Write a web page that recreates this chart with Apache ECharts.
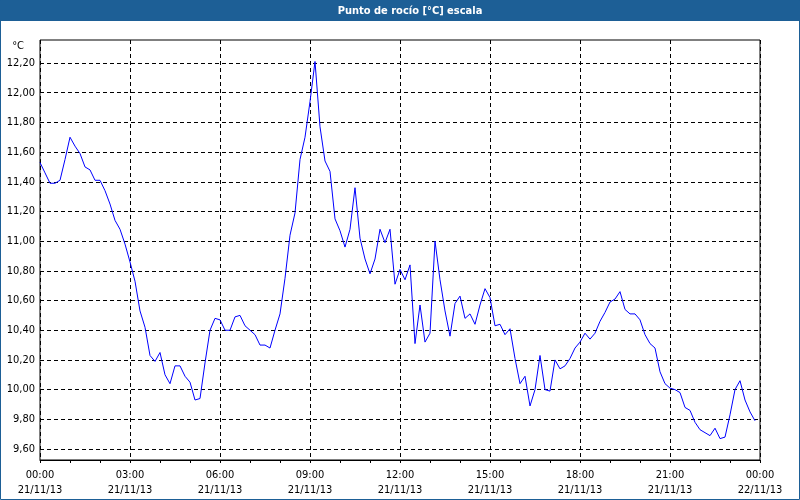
<!DOCTYPE html>
<html>
<head>
<meta charset="utf-8">
<script src="https://cdn.jsdelivr.net/npm/echarts@6/dist/echarts.min.js"></script>
<style>
html,body{margin:0;padding:0;background:#fff;}
#c{width:800px;height:500px;}
</style>
</head>
<body>
<div id="c"></div>
<script>
// ---- data ----
const titleText = 'Punto de rocío [°C] escala';
const unitLabel = '°C';
const sampleMinutes = 10; // one reading every 10 minutes from 00:00 21/11/13
const dewPoint = [
  11.53,11.46,11.39,11.39,11.41,11.55,11.70,11.64,11.59,11.50,11.48,11.41,
  11.41,11.34,11.25,11.14,11.08,10.98,10.86,10.73,10.53,10.42,10.23,10.19,
  10.25,10.10,10.04,10.16,10.16,10.09,10.05,9.93,9.94,10.18,10.40,10.48,
  10.47,10.40,10.40,10.49,10.50,10.43,10.40,10.37,10.30,10.30,10.28,10.40,
  10.51,10.75,11.04,11.19,11.55,11.70,11.94,12.21,11.77,11.54,11.47,11.15,
  11.07,10.96,11.08,11.36,11.02,10.88,10.78,10.88,11.08,10.99,11.08,10.71,
  10.81,10.74,10.84,10.31,10.57,10.32,10.38,11.00,10.74,10.53,10.36,10.58,
  10.63,10.48,10.51,10.44,10.57,10.68,10.62,10.43,10.44,10.37,10.41,10.21,
  10.04,10.09,9.89,10.00,10.23,10.00,9.99,10.20,10.14,10.16,10.21,10.28,
  10.32,10.38,10.34,10.38,10.46,10.52,10.59,10.61,10.66,10.54,10.51,10.51,
  10.47,10.37,10.31,10.28,10.12,10.04,10.01,10.00,9.98,9.88,9.86,9.78,
  9.73,9.71,9.69,9.74,9.67,9.68,9.83,10.00,10.06,9.93,9.85,9.79
];
const xTickLabels = [
  '00:00\n21/11/13','03:00\n21/11/13','06:00\n21/11/13','09:00\n21/11/13',
  '12:00\n21/11/13','15:00\n21/11/13','18:00\n21/11/13','21:00\n21/11/13',
  '00:00\n22/11/13'
];
const xTickStep = 180;   // minutes between labelled ticks
const xMax = 1440;       // minutes in the day
const yMin = 9.6, yMax = 12.2, yStep = 0.2;

// ---- chart ----
const seriesData = dewPoint.map((v, i) => [i * sampleMinutes, v]);
const FONT = '"DejaVu Sans Condensed", "DejaVu Sans", sans-serif';
const chart = echarts.init(document.getElementById('c'), null, {renderer: 'canvas'});
chart.setOption({
  animation: false,
  backgroundColor: '#ffffff',
  textStyle: {fontFamily: FONT},
  graphic: [
    {type: 'rect', z: 0, shape: {x: 0, y: 0, width: 800, height: 21}, style: {fill: '#1d5f96'}},
    {type: 'rect', z: 0, shape: {x: 0.5, y: 0.5, width: 799, height: 499}, style: {fill: null, stroke: '#1d5f96', lineWidth: 1}},
    {type: 'text', z: 10, x: 410, y: 11, style: {text: titleText, fill: '#ffffff', font: 'bold 11px ' + FONT, align: 'center', verticalAlign: 'middle'}},
    {type: 'text', z: 10, x: 24, y: 46, style: {text: unitLabel, fill: '#000000', font: '11px ' + FONT, align: 'right', verticalAlign: 'middle'}}
  ],
  grid: [
    {left: 40, top: 40, width: 720, height: 420, show: true, borderColor: '#000', borderWidth: 1, backgroundColor: 'transparent'},
    {left: 40, top: 63, width: 720, height: 386}
  ],
  xAxis: [
    {
      gridIndex: 0, type: 'value', min: 0, max: xMax, interval: xTickStep,
      axisLine: {show: true, lineStyle: {color: '#000', width: 1}},
      axisTick: {show: true, length: 3, lineStyle: {color: '#000'}},
      minorTick: {show: true, splitNumber: 3, length: 3, lineStyle: {color: '#000'}},
      splitLine: {show: true, lineStyle: {color: '#000', type: [4, 3], width: 1}},
      axisLabel: {
        color: '#000', fontSize: 11, lineHeight: 15, margin: 8, fontFamily: FONT,
        showMinLabel: true, showMaxLabel: true, hideOverlap: false,
        formatter: v => xTickLabels[Math.round(v / xTickStep)] || ''
      }
    },
    {gridIndex: 1, type: 'value', min: 0, max: xMax, show: false}
  ],
  yAxis: [
    {gridIndex: 0, type: 'value', min: 0, max: 1, show: false},
    {
      gridIndex: 1, type: 'value', min: yMin, max: yMax, interval: yStep,
      axisLine: {show: false}, axisTick: {show: false},
      splitLine: {show: true, lineStyle: {color: '#000', type: [4, 3], width: 1}},
      axisLabel: {
        color: '#000', fontSize: 11, margin: 5, fontFamily: FONT,
        showMinLabel: true, showMaxLabel: true,
        formatter: v => v.toFixed(2).replace('.', ',')
      }
    }
  ],
  series: [{
    type: 'line', xAxisIndex: 1, yAxisIndex: 1,
    data: seriesData, showSymbol: false, symbol: 'none', clip: false,
    lineStyle: {color: '#0000ff', width: 1}, z: 5
  }]
});
</script>
</body>
</html>
